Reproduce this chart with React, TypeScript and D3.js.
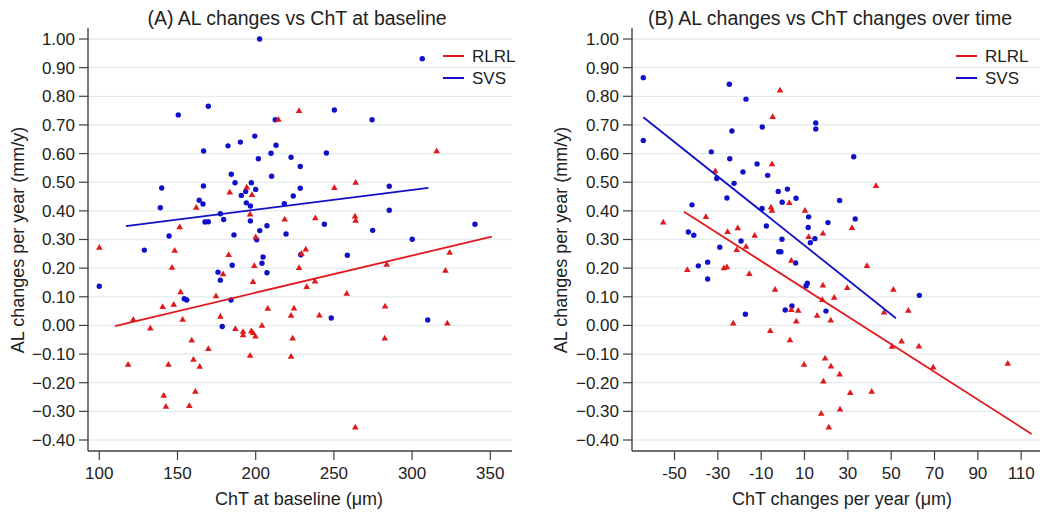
import React from "react";
import { scaleLinear, symbol, symbolTriangle, line, range, format } from "d3";

const width = 1046;
const height = 512;

// y is shared by both panels
const yTicks = range(-4, 11).map((d) => d / 10);
const xTicksA = [100, 150, 200, 250, 300, 350];
const xTicksB = [-50, -30, -10, 10, 30, 50, 70, 90, 110];

// Panel A: ChT at baseline (um) vs AL change (mm/y)
const aRed = [
  [227.7, 0.751], [214.5, 0.721], [315.7, 0.611], [194.3, 0.484], [183.4, 0.467], [197.6, 0.458],
  [250.3, 0.482], [263.9, 0.501], [162.0, 0.413], [196.4, 0.39], [218.5, 0.372], [238.1, 0.377],
  [263.5, 0.383], [263.9, 0.368], [151.4, 0.345], [200.0, 0.31], [100, 0.274], [148.2, 0.263],
  [182.7, 0.248], [229.2, 0.253], [232.0, 0.268], [324.0, 0.256], [146.5, 0.204], [199.1, 0.21],
  [227.7, 0.203], [283.8, 0.214], [321.3, 0.193], [179.1, 0.181], [198.3, 0.154], [237.9, 0.156],
  [232.6, 0.137], [152.0, 0.118], [174.6, 0.104], [258.2, 0.113], [140.5, 0.067], [147.6, 0.075],
  [207.7, 0.061], [224.5, 0.062], [282.7, 0.069], [121.7, 0.022], [153.3, 0.022], [177.4, 0.033],
  [222.6, 0.036], [240.7, 0.037], [322.5, 0.009], [132.6, -0.008], [187.0, -0.01], [191.9, -0.02],
  [191.9, -0.032], [197.2, -0.018], [198.3, -0.024], [199.8, -0.036], [204.0, 0.001], [223.6, -0.043],
  [282.5, -0.043], [159.1, -0.05], [169.7, -0.08], [196.4, -0.103], [222.6, -0.107], [118.4, -0.135],
  [144.2, -0.135], [160.2, -0.117], [164.2, -0.142], [141.2, -0.243], [161.4, -0.229], [142.6, -0.281],
  [157.6, -0.279], [263.7, -0.354],
];
const aBlue = [
  [202.5, 1.0], [306.5, 0.931], [169.7, 0.765], [150.5, 0.735], [250.3, 0.752], [212.5, 0.718],
  [274.4, 0.718], [199.4, 0.661], [166.7, 0.609], [182.3, 0.627], [190.2, 0.64], [213.0, 0.629],
  [209.8, 0.601], [201.7, 0.582], [222.6, 0.587], [245.2, 0.602], [228.5, 0.555], [184.4, 0.528],
  [210.2, 0.521], [139.9, 0.48], [166.6, 0.487], [186.8, 0.498], [197.2, 0.498], [193.6, 0.468],
  [200.0, 0.475], [190.8, 0.454], [228.5, 0.479], [224.0, 0.452], [285.4, 0.486], [163.9, 0.437],
  [166.3, 0.424], [194.0, 0.428], [196.6, 0.417], [218.3, 0.425], [139.0, 0.411], [177.4, 0.39],
  [285.4, 0.402], [179.5, 0.37], [167.6, 0.361], [169.7, 0.362], [196.6, 0.365], [243.9, 0.353],
  [340.2, 0.353], [274.8, 0.332], [207.2, 0.348], [202.6, 0.331], [219.4, 0.319], [186.1, 0.316],
  [144.6, 0.312], [200.6, 0.299], [300.1, 0.301], [128.8, 0.263], [228.8, 0.247], [258.6, 0.245],
  [204.7, 0.239], [204.0, 0.217], [185.0, 0.21], [175.9, 0.186], [207.2, 0.184], [177.4, 0.158],
  [100, 0.137], [154.3, 0.093], [155.9, 0.089], [184.2, 0.089], [248.3, 0.026], [310.0, 0.019],
  [178.6, -0.004],
];
const aFitRed = [[110, -0.002], [351, 0.31]];
const aFitBlue = [[117, 0.347], [310.4, 0.48]];

// Panel B: ChT change per year (um) vs AL change (mm/y)
const bRed = [
  [-1.3, 0.823], [-4.7, 0.73], [-5.0, 0.565], [-31.2, 0.541], [43.0, 0.489], [3.0, 0.43],
  [-5.5, 0.414], [-5.0, 0.403], [10.2, 0.403], [-55.2, 0.362], [-35.5, 0.381], [31.9, 0.343],
  [-20.8, 0.342], [-25.5, 0.329], [-13.0, 0.316], [18.5, 0.323], [11.9, 0.311], [-17.0, 0.277],
  [-21.3, 0.266], [3.9, 0.228], [-44.1, 0.196], [-27.2, 0.202], [-25.8, 0.206], [-15.5, 0.182],
  [38.8, 0.21], [-3.6, 0.127], [18.5, 0.142], [29.7, 0.133], [51.0, 0.127], [18.2, 0.091],
  [23.7, 0.099], [3.9, 0.056], [7.1, 0.054], [15.8, 0.036], [46.7, 0.048], [57.9, 0.054],
  [-22.9, 0.009], [22.1, 0.02], [6.2, 0.016], [-5.8, -0.017], [3.3, -0.049], [50.4, -0.072],
  [54.8, -0.054], [62.8, -0.071], [9.8, -0.135], [19.5, -0.113], [22.2, -0.141], [26.2, -0.169],
  [69.4, -0.144], [103.8, -0.131], [18.7, -0.193], [31.1, -0.233], [41.0, -0.229], [17.7, -0.306],
  [26.4, -0.291], [21.2, -0.354],
];
const bBlue = [
  [-64.4, 0.865], [-64.4, 0.646], [-24.7, 0.842], [-17.0, 0.79], [-23.5, 0.679], [-9.5, 0.693],
  [15.2, 0.707], [15.2, 0.686], [-33.0, 0.606], [-24.5, 0.582], [-11.9, 0.564], [-18.4, 0.536],
  [-7.0, 0.524], [32.7, 0.589], [-30.5, 0.513], [-22.5, 0.496], [-2.1, 0.468], [2.1, 0.476],
  [-0.3, 0.43], [6.1, 0.444], [-25.8, 0.445], [26.2, 0.436], [-41.9, 0.421], [-9.6, 0.408],
  [11.9, 0.379], [-7.6, 0.347], [20.8, 0.359], [33.4, 0.372], [11.7, 0.342], [-43.6, 0.326],
  [-41.1, 0.315], [-0.4, 0.301], [14.8, 0.303], [-19.3, 0.295], [12.7, 0.289], [-29.1, 0.273],
  [-1.9, 0.257], [-0.9, 0.257], [5.9, 0.218], [-39.0, 0.208], [-34.7, 0.221], [-34.7, 0.162],
  [11.3, 0.147], [10.7, 0.138], [63.0, 0.105], [1.1, 0.054], [4.2, 0.068], [19.9, 0.05],
  [-17.3, 0.039],
];
const bFitRed = [[-45.6, 0.397], [114.8, -0.379]];
const bFitBlue = [[-64.4, 0.727], [52.2, 0.025]];

const red = "#e2191c";
const blue = "#1010c8";
const gridColor = "#e3ebee";
const axisColor = "#404040";
const textColor = "#222";
const font = "'Liberation Sans', Arial, sans-serif";

// layout
const plotTop = 28;
const plotBottom = 451;

const yScale = scaleLinear().domain([-0.4, 1.0]).range([440, 39]);
const fmtY = format(".2f");
const tri = symbol().type(symbolTriangle).size(19)();

type Pt = number[];

const Panel = ({
  xScale, xTicks, left, right, redPts, bluePts, redFit, blueFit,
  title, titleX, xTitle, xTitleX, yTitleX, legendX,
}: any) => {
  const fit = line<Pt>()
    .x((d) => xScale(d[0]))
    .y((d) => yScale(d[1]));
  return (
    <g>
      {/* grid */}
      {yTicks.map((t) => (
        <line key={"g" + t} x1={left} x2={right} y1={yScale(t)} y2={yScale(t)}
          stroke={gridColor} strokeWidth={1.3} />
      ))}
      {/* axes */}
      <line x1={left} x2={left} y1={plotTop} y2={plotBottom} stroke={axisColor} strokeWidth={1.4} />
      <line x1={left} x2={right} y1={plotBottom} y2={plotBottom} stroke={axisColor} strokeWidth={1.4} />
      {yTicks.map((t) => (
        <g key={"y" + t} transform={`translate(${left},${yScale(t)})`}>
          <line x1={-9} x2={0} stroke={axisColor} strokeWidth={1.2} />
          <text x={-13} dy="0.35em" textAnchor="end" fontSize={17} fill={textColor}>
            {fmtY(t)}
          </text>
        </g>
      ))}
      {xTicks.map((t: number) => (
        <g key={"x" + t} transform={`translate(${xScale(t)},${plotBottom})`}>
          <line y1={0} y2={9} stroke={axisColor} strokeWidth={1.2} />
          <text y={28} textAnchor="middle" fontSize={17} fill={textColor}>
            {t}
          </text>
        </g>
      ))}
      {/* titles */}
      <text x={titleX} y={25} textAnchor="middle" fontSize={19.5} fill={textColor}>{title}</text>
      <text x={xTitleX} y={505} textAnchor="middle" fontSize={18} fill={textColor}>{xTitle}</text>
      <text transform={`translate(${yTitleX},240) rotate(-90)`} dy="0.35em" textAnchor="middle"
        fontSize={18} fill={textColor}>
        AL changes per year (mm/y)
      </text>
      {/* points */}
      {bluePts.map((d: Pt, i: number) => (
        <circle key={"b" + i} cx={xScale(d[0])} cy={yScale(d[1])} r={2.7} fill={blue} />
      ))}
      {redPts.map((d: Pt, i: number) => (
        <path key={"r" + i} d={tri} transform={`translate(${xScale(d[0])},${yScale(d[1]) + 0.8})`} fill={red} />
      ))}
      {/* fit lines */}
      <path d={fit(redFit) || ""} fill="none" stroke={red} strokeWidth={1.8} />
      <path d={fit(blueFit) || ""} fill="none" stroke={blue} strokeWidth={1.8} />
      {/* legend */}
      <g transform={`translate(${legendX},56)`}>
        <line x1={0} x2={21} stroke={red} strokeWidth={2} />
        <text x={29} dy="0.35em" fontSize={17} fill={textColor}>RLRL</text>
        <g transform="translate(0,22)">
          <line x1={0} x2={21} stroke={blue} strokeWidth={2} />
          <text x={29} dy="0.35em" fontSize={17} fill={textColor}>SVS</text>
        </g>
      </g>
    </g>
  );
};

export default function App() {
  const xA = scaleLinear().domain([100, 350]).range([99.3, 490.3]);
  const xB = scaleLinear().domain([-50, 110]).range([674.5, 1021.2]);
  return (
    <svg width={width} height={height} style={{ position: "absolute", left: 0, top: 0, background: "#fff" }}
      fontFamily={font}>
      <Panel xScale={xA} xTicks={xTicksA} left={88} right={512} redPts={aRed} bluePts={aBlue}
        redFit={aFitRed} blueFit={aFitBlue} title="(A) AL changes vs ChT at baseline" titleX={297}
        xTitle="ChT at baseline (μm)" xTitleX={299} yTitleX={18} legendX={443} />
      <Panel xScale={xB} xTicks={xTicksB} left={632} right={1040} redPts={bRed} bluePts={bBlue}
        redFit={bFitRed} blueFit={bFitBlue} title="(B) AL changes vs ChT changes over time" titleX={830}
        xTitle="ChT changes per year (μm)" xTitleX={842} yTitleX={561} legendX={956} />
    </svg>
  );
}
